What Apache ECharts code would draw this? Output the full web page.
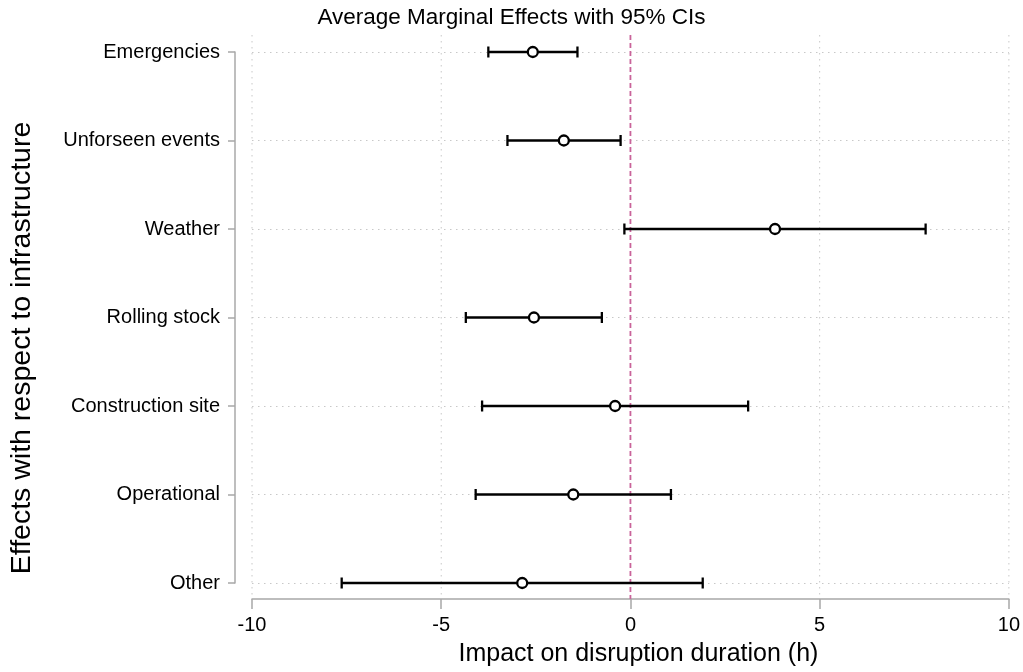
<!DOCTYPE html>
<html>
<head>
<meta charset="utf-8">
<script src="https://cdn.jsdelivr.net/npm/echarts@6/dist/echarts.min.js"></script>
<style>html,body{margin:0;padding:0;background:#fff}#c{width:1023px;height:672px}</style>
</head>
<body>
<div id="c"></div>
<script>
var categories = ['Emergencies', 'Unforseen events', 'Weather', 'Rolling stock', 'Construction site', 'Operational', 'Other'];
var estimates = [-2.58, -1.76, 3.82, -2.55, -0.405, -1.51, -2.86];
var lowerCI = [-3.755, -3.25, -0.16, -4.35, -3.92, -4.09, -7.63];
var upperCI = [-1.40, -0.26, 7.80, -0.755, 3.11, 1.07, 1.91];
var xTicks = [-10, -5, 0, 5, 10];

var FONT = 'Liberation Sans, Arial, Helvetica, sans-serif';
var chart = echarts.init(document.getElementById('c'), null, {renderer: 'canvas'});

var pointData = estimates.map(function (v, i) { return [v, i]; });
var ciData = estimates.map(function (v, i) { return [lowerCI[i], upperCI[i], i]; });
var gridData = xTicks.map(function (v) { return [v]; });

chart.setOption({
  backgroundColor: '#ffffff',
  animation: false,
  title: {
    text: 'Average Marginal Effects with 95% CIs',
    left: 'center',
    top: 1,
    textStyle: {fontFamily: FONT, fontSize: 22.5, fontWeight: 'normal', color: '#000'}
  },
  graphic: [{
    type: 'text',
    x: 22, y: 348,
    rotation: Math.PI / 2,
    style: {
      text: 'Effects with respect to infrastructure',
      font: '28.5px ' + FONT,
      fill: '#000',
      align: 'center',
      verticalAlign: 'middle'
    }
  }],
  grid: {left: 252, right: 11, top: 52, bottom: 88},
  xAxis: {
    type: 'value',
    position: 'bottom',
    min: -10, max: 10, interval: 5,
    offset: 16,
    name: 'Impact on disruption duration (h)',
    nameLocation: 'middle',
    nameGap: 43,
    nameTextStyle: {fontFamily: FONT, fontSize: 25, color: '#000', padding: [0, 0, 0, 16]},
    axisLine: {show: true, onZero: false, lineStyle: {color: '#a8a8a8', width: 1.5}},
    axisTick: {show: true, length: 10, lineStyle: {color: '#a8a8a8', width: 1.5}},
    axisLabel: {fontFamily: FONT, fontSize: 20, color: '#000', margin: 16},
    splitLine: {show: false}
  },
  yAxis: {
    type: 'value',
    position: 'left',
    inverse: true,
    min: 0, max: 6, interval: 1,
    offset: 17,
    axisLine: {show: true, onZero: false, lineStyle: {color: '#a8a8a8', width: 1.5}},
    axisTick: {show: true, length: 7, lineStyle: {color: '#a8a8a8', width: 1.5}},
    axisLabel: {
      fontFamily: FONT, fontSize: 20, color: '#000', margin: 15,
      formatter: function (v) { return categories[Math.round(v)] || ''; }
    },
    splitLine: {show: true, lineStyle: {color: '#c8c8c8', width: 1, type: [1.5, 4.5]}}
  },
  series: [
    {
      type: 'custom',
      name: 'vgrid',
      silent: true,
      clip: false,
      z: 1,
      data: gridData,
      renderItem: function (params, api) {
        var v = api.value(0);
        var a = api.coord([v, 0]);
        var b = api.coord([v, 6]);
        var y0 = Math.min(a[1], b[1]) - 17;
        var y1 = Math.max(a[1], b[1]) + 12;
        var isZero = v === 0;
        return {
          type: 'line',
          shape: {x1: a[0], y1: y0, x2: a[0], y2: isZero ? y1 + 4 : y1},
          style: isZero
            ? {stroke: '#c9649a', lineWidth: 1.8, lineDash: [5, 3]}
            : {stroke: '#c8c8c8', lineWidth: 1, lineDash: [1.5, 4.5]},
          z2: isZero ? 10 : 1
        };
      }
    },
    {
      type: 'custom',
      name: 'ci',
      silent: true,
      z: 3,
      data: ciData,
      renderItem: function (params, api) {
        var p0 = api.coord([api.value(0), api.value(2)]);
        var p1 = api.coord([api.value(1), api.value(2)]);
        var h = 5.5;
        var st = {stroke: '#000', lineWidth: 2.3};
        return {
          type: 'group',
          children: [
            {type: 'line', shape: {x1: p0[0], y1: p0[1], x2: p1[0], y2: p1[1]}, style: st},
            {type: 'line', shape: {x1: p0[0], y1: p0[1] - h, x2: p0[0], y2: p0[1] + h}, style: st},
            {type: 'line', shape: {x1: p1[0], y1: p1[1] - h, x2: p1[0], y2: p1[1] + h}, style: st}
          ]
        };
      }
    },
    {
      type: 'scatter',
      name: 'estimate',
      z: 4,
      symbol: 'circle',
      symbolSize: 10,
      itemStyle: {color: '#ffffff', borderColor: '#000', borderWidth: 2.3, opacity: 1},
      data: pointData
    }
  ]
});
</script>
</body>
</html>
